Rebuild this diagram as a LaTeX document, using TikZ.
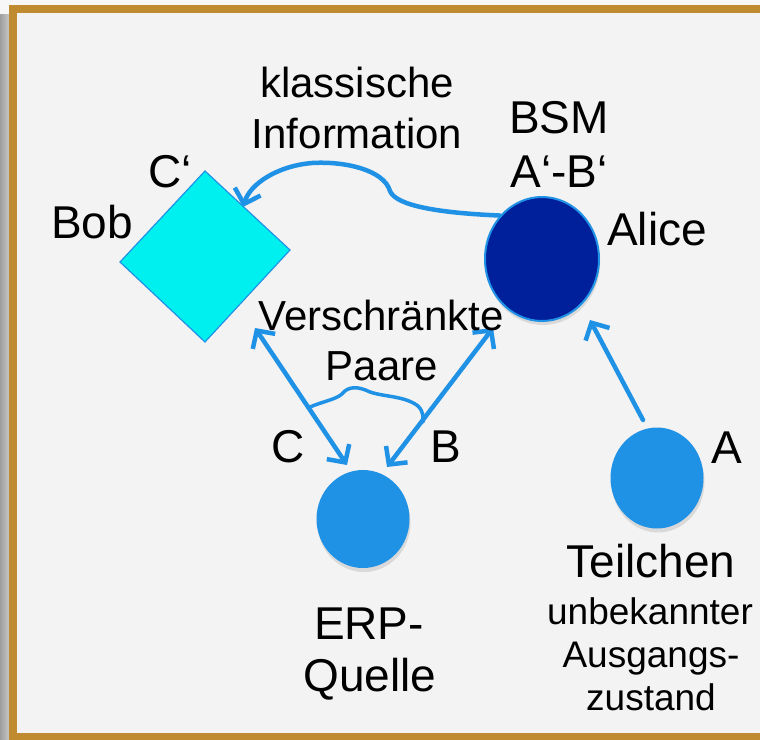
\documentclass[tikz,border=0pt]{standalone}
\usepackage{fontspec}
\setmainfont{Liberation Sans}
\usetikzlibrary{arrows.meta,shapes.geometric,shadows}

\definecolor{frameGold}{RGB}{192,138,46}
\definecolor{panelGray}{RGB}{243,243,243}
\definecolor{linkBlue}{RGB}{32,146,230}
\definecolor{bsmBlue}{RGB}{0,32,155}
\definecolor{bobCyan}{RGB}{0,240,240}

\begin{document}
\begin{tikzpicture}[x=1pt,y=-1pt,
  big/.style={font=\fontsize{46}{55}\selectfont, inner sep=0pt, anchor=base},
  mid/.style={font=\fontsize{42}{50}\selectfont, inner sep=0pt, anchor=base},
  small/.style={font=\fontsize{37}{44}\selectfont, inner sep=0pt, anchor=base},
  link/.style={draw=linkBlue, line width=4.5pt, line cap=round, line join=round},
  thinlink/.style={draw=linkBlue, line width=3.5pt, line cap=round, line join=round},
  particle/.style={ellipse, inner sep=0pt, fill=linkBlue,
    drop shadow={opacity=0.22, shadow xshift=1pt, shadow yshift=-4pt}},
  >={Straight Barb[length=13pt,width=27pt]}
]
\useasboundingbox (0,0) rectangle (760,739);

% page, shadow strip and gold frame
\fill[white!97!black] (0,0) rectangle (760,739);
\shade[left color=black!38, right color=black!22] (0,14) rectangle (9,739);
\fill[frameGold] (9,5) rectangle (775,750);
\fill[panelGray] (17,13) rectangle (775,733);

% Bob's station
\coordinate (bobTop) at (205,171);
\coordinate (bobRight) at (290,250);
\coordinate (bobBottom) at (205,342);
\coordinate (bobLeft) at (120,262);
\filldraw[fill=bobCyan, draw=linkBlue, line width=1.2pt, line join=miter]
  (bobTop) -- (bobRight) -- (bobBottom) -- (bobLeft) -- cycle;

% Alice, the EPR source and the particle
\node[ellipse, inner sep=0pt, minimum width=114pt, minimum height=124pt,
      fill=bsmBlue, draw=linkBlue, line width=2pt,
      drop shadow={opacity=0.22, shadow xshift=1pt, shadow yshift=-4pt}]
      (alice) at (542,259) {};
\node[particle, minimum width=93pt, minimum height=98pt] (erp) at (363,519) {};
\node[particle, minimum width=93pt, minimum height=101pt] (teil) at (657,478) {};

% arrow ends
\coordinate (bobHit) at (243,207);
\coordinate (cUp) at (255,328);
\coordinate (cDown) at (347,465);
\coordinate (bUp) at (493,328);
\coordinate (bDown) at (387,467);
\coordinate (aFrom) at (643,420);
\coordinate (aTo) at (590,320);
\coordinate (braceL) at (308,408);
\coordinate (braceR) at (423,422);

% classical channel from Alice to Bob
\draw[link, ->] (alice.134)
  .. controls (440,213) and (396,206) .. (390,191)
  .. controls (384,170) and (345,161) .. (312,163)
  .. controls (277,166) and (250,184) .. (bobHit);

% entangled pair
\draw[link, <->] (cUp) -- (cDown);
\draw[link, <->] (bUp) -- (bDown);
\draw[thinlink] (braceL)
  .. controls (320,402) and (335,400) .. (342,394)
  .. controls (348,386) and (358,386) .. (370,392)
  .. controls (385,397) and (405,396) .. (418,406)
  .. controls (424,412) and (423,418) .. (braceR);

% particle to Alice
\draw[link, ->] (aFrom) -- (aTo);

% labels
\node[mid] (kl1) at (357,97) {klassische};
\node[mid] (kl2) at (357,148) {Information};
\node[big] (bsm1) at (559,133) {BSM};
\node[big] (bsm2) at (559,187) {A‘-B‘};
\node[big] (aliceL) at (657,245) {Alice};
\node[big] (bobL) at (92,238) {Bob};
\node[big] (cpL) at (170,187) {C‘};
\node[mid] (vp1) at (381,330) {Verschränkte};
\node[mid] (vp2) at (382,380) {Paare};
\node[big] (cL) at (288,462) {C};
\node[big] (bL) at (446,462) {B};
\node[big] (aL) at (727,463) {A};
\node[big] (teilL) at (651,577) {Teilchen};
\node[small] (st1) at (650,624) {unbekannter};
\node[small] (st2) at (651,667) {Ausgangs-};
\node[small] (st3) at (651,710) {zustand};
\node[big] (erp1) at (369,639) {ERP-};
\node[big] (erp2) at (370,691) {Quelle};
\end{tikzpicture}
\end{document}
